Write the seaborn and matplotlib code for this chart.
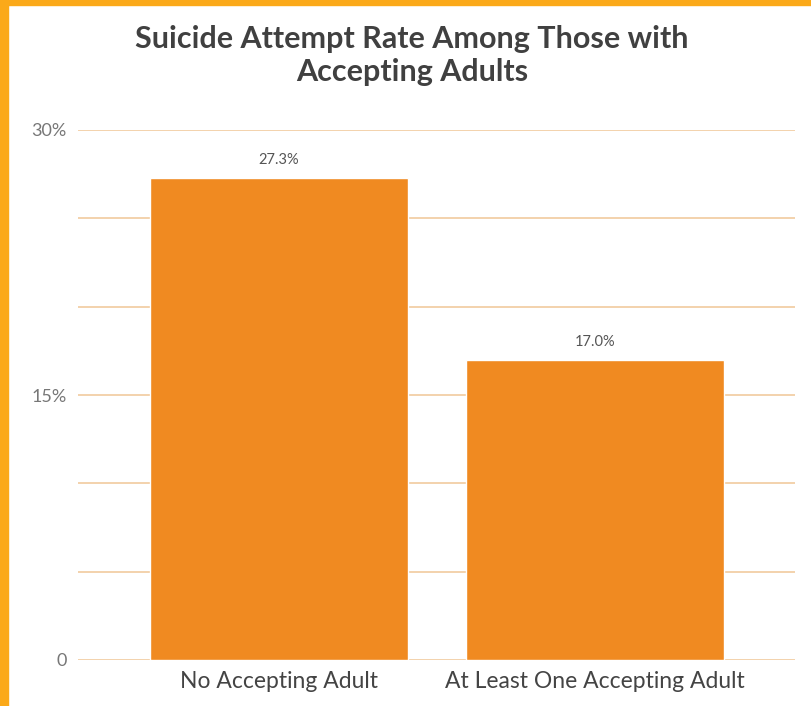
import matplotlib.pyplot as plt
import matplotlib.patches as mpatches
import pandas as pd
import seaborn as sns

categories = ["No Accepting Adult", "At Least One Accepting Adult"]
rates = [27.3, 17.0]
value_labels = ["27.3%", "17.0%"]
tick_values = [0, 15, 30]
tick_labels = ["0", "15%", "30%"]
grid_values = [0, 5, 10, 15, 20, 25, 30]

df = pd.DataFrame({"category": categories, "rate": rates})

sns.set_theme(style="white")
plt.rcParams['font.family'] = ['Lato', 'DejaVu Sans']

fig = plt.figure(figsize=(8.11, 7.06), dpi=100)
ax = fig.add_axes([78 / 811, 1 - 660 / 706, (795 - 78) / 811, 530 / 706])

for g in grid_values:
    ax.axhline(g, color="#F3D2AC", lw=1.4, zorder=0)

sns.barplot(data=df, x="category", y="rate", color="#F08A21", saturation=1,
            width=0.816, ax=ax, zorder=2)

for i, (v, lab) in enumerate(zip(rates, value_labels)):
    ax.text(i, v + 0.6, lab, ha="center", va="bottom", fontsize=10.5, color="#555555")

ax.set_ylim(0, 30)
ax.set_xlim(-0.636, 1.633)
ax.set_yticks(tick_values)
ax.set_yticklabels(tick_labels, fontsize=13, color="#777777")
ax.tick_params(axis="y", length=0, pad=8)
ax.tick_params(axis="x", length=0, pad=8, labelsize=16.5, labelcolor="#444444")
ax.set_xlabel("")
ax.set_ylabel("")
for s in ax.spines.values():
    s.set_visible(False)

fig.text(0.508, 0.965, "Suicide Attempt Rate Among Those with\nAccepting Adults",
         ha="center", va="top", fontsize=22, fontweight="bold", color="#404040",
         linespacing=1.25)

# orange frame on left and top
fig.patches.append(mpatches.Rectangle((0, 0), 8 / 811, 1, transform=fig.transFigure,
                                      color="#FBA919", zorder=10))
fig.patches.append(mpatches.Rectangle((0, 1 - 5 / 706), 1, 5 / 706, transform=fig.transFigure,
                                      color="#FBA919", zorder=10))

fig.savefig("out.png", dpi=100)
